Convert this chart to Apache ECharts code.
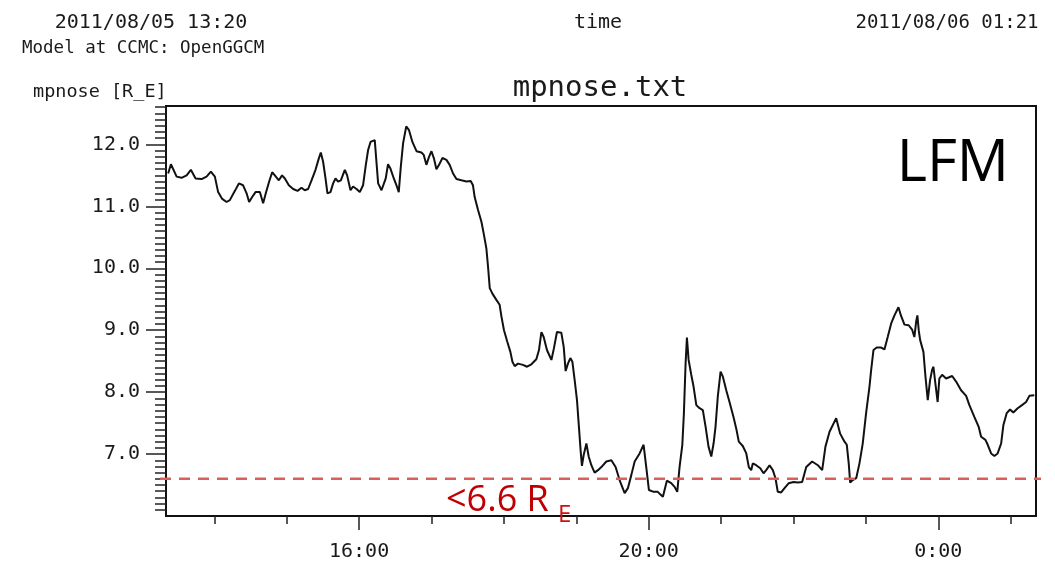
<!DOCTYPE html>
<html><head><meta charset="utf-8">
<script src="https://cdn.jsdelivr.net/npm/echarts@6/dist/echarts.min.js"></script>
<style>html,body{margin:0;padding:0;background:#fff}#c{width:1055px;height:564px}</style>
</head><body><div id="c"></div>
<script>
// time in minutes after 2011/08/05 13:20 UT
const minutesSince1320 = [1.8,4.1,8.8,12.9,17.1,20.6,24.5,29.5,33.6,37.2,40.5,43.2,46.6,50.2,52.9,57.1,60.4,63.9,66.8,68.9,71.4,74.2,77.8,80.5,82.7,85.5,88.0,90.2,93.5,96.2,98.5,101.8,105.4,109.0,112.3,115.0,117.8,120.6,123.9,126.6,128.3,130.2,132.2,133.8,136.3,138.5,140.5,142.6,144.9,148.2,150.1,152.9,155.0,157.9,160.6,163.3,165.6,167.5,169.5,173.0,174.4,175.8,178.6,179.9,182.1,184.0,186.0,188.8,191.0,192.9,194.6,196.5,199.1,201.4,204.2,207.6,211.7,213.6,215.8,218.0,220.0,222.1,224.1,226.3,229.1,232.4,235.1,237.9,240.7,244.8,249.0,252.5,254.4,255.8,258.6,261.4,263.5,265.5,266.9,268.3,270.5,273.8,276.5,278.0,280.1,282.9,285.4,287.1,289.0,291.7,295.8,299.2,302.8,306.9,309.1,311.1,313.0,315.7,319.4,321.5,324.0,327.6,329.6,331.2,333.1,335.1,336.8,338.7,340.6,342.2,343.6,344.7,346.1,348.4,350.3,352.5,355.2,358.0,360.8,364.9,369.1,372.6,375.9,380.1,382.8,385.6,388.4,392.5,395.8,398.0,400.2,404.1,407.6,409.6,411.8,415.1,418.7,421.5,423.7,425.6,427.9,429.2,430.6,431.7,433.1,435.3,437.2,439.5,442.2,444.9,447.2,449.6,451.9,453.8,455.4,457.3,459.6,461.5,464.3,467.0,470.3,472.6,474.7,478.0,480.9,483.0,485.0,486.3,489.1,492.5,495.2,497.4,500.2,502.9,505.1,507.0,509.8,512.6,516.1,520.0,523.6,527.2,530.6,535.5,540.2,543.8,546.5,549.9,555.4,558.7,562.3,564.2,565.8,567.0,569.1,572.0,574.7,577.4,580.2,583.0,584.4,586.3,589.0,592.7,595.4,598.1,601.0,603.7,607.0,609.2,612.0,615.5,618.3,620.2,621.7,622.7,623.8,625.0,627.7,629.4,631.3,633.2,634.9,636.0,637.6,639.5,640.9,643.2,646.5,651.5,654.8,658.9,663.1,665.8,669.9,673.5,675.5,679.1,681.0,683.8,686.5,689.2,692.1,694.0,696.7,699.5,702.2,705.8,709.4,712.8,715.5,719.6];
// magnetopause nose distance [R_E]
const mpnose = [11.53,11.68,11.48,11.46,11.50,11.59,11.45,11.44,11.48,11.56,11.48,11.23,11.12,11.07,11.10,11.25,11.37,11.34,11.21,11.07,11.15,11.23,11.23,11.05,11.21,11.40,11.55,11.50,11.42,11.50,11.45,11.34,11.28,11.25,11.30,11.26,11.28,11.42,11.59,11.77,11.87,11.72,11.45,11.21,11.23,11.37,11.45,11.40,11.42,11.59,11.50,11.26,11.32,11.28,11.23,11.34,11.67,11.91,12.04,12.07,11.72,11.37,11.26,11.23,11.45,11.68,11.61,11.45,11.34,11.23,11.64,12.02,12.29,12.23,12.04,11.89,11.87,11.83,11.67,11.80,11.89,11.77,11.60,11.67,11.78,11.75,11.67,11.53,11.44,11.42,11.40,11.41,11.34,11.15,10.94,10.75,10.54,10.32,10.02,9.68,9.59,9.49,9.41,9.22,9.00,8.81,8.65,8.49,8.42,8.46,8.44,8.41,8.45,8.53,8.68,8.97,8.89,8.68,8.52,8.71,8.97,8.96,8.73,8.34,8.46,8.55,8.49,8.19,7.87,7.44,7.06,6.81,6.98,7.17,6.96,6.82,6.70,6.74,6.79,6.88,6.90,6.79,6.58,6.37,6.45,6.66,6.88,7.01,7.15,6.79,6.42,6.39,6.39,6.35,6.31,6.57,6.53,6.47,6.39,6.79,7.15,7.66,8.46,8.88,8.52,8.28,8.09,7.79,7.74,7.71,7.44,7.12,6.96,7.17,7.44,7.93,8.33,8.25,8.03,7.84,7.60,7.41,7.20,7.13,7.01,6.79,6.74,6.85,6.82,6.77,6.69,6.74,6.82,6.74,6.61,6.39,6.38,6.45,6.53,6.55,6.54,6.55,6.79,6.88,6.82,6.74,7.12,7.36,7.58,7.33,7.20,7.15,6.85,6.54,6.58,6.61,6.85,7.17,7.66,8.09,8.36,8.68,8.72,8.72,8.69,8.89,9.11,9.24,9.37,9.23,9.09,9.08,9.01,8.89,9.14,9.24,9.00,8.84,8.65,8.25,7.87,8.19,8.36,8.41,8.14,7.84,8.22,8.28,8.22,8.26,8.17,8.03,7.94,7.79,7.60,7.44,7.28,7.23,7.15,7.01,6.97,7.01,7.17,7.47,7.66,7.72,7.67,7.74,7.79,7.84,7.94,7.95];
const threshold = 6.6;
const xMin = 0, xMax = 721;               // 13:20 .. 01:21
const xMajorTicks = [160, 400, 640];      // 16:00, 20:00, 0:00
const xMinorTicks = [40,100,160,220,280,340,400,460,520,580,640,700];
const yMin = 6.0, yMax = 12.62;
const yMajorTicks = [7, 8, 9, 10, 11, 12];
const yMinorTicks = [];
for (let i = 61; i <= 126; i++) yMinorTicks.push(i / 10);
const startLabel = '2011/08/05 13:20';
const endLabel = '2011/08/06 01:21';
const modelLabel = 'Model at CCMC: OpenGGCM';
const yName = 'mpnose [R_E]';
const plotTitle = 'mpnose.txt';
const xName = 'time';
const modelTag = 'LFM';
const thresholdText = '<6.6 R';
const thresholdSub = 'E';

const MONO = '"DejaVu Sans Mono", "Liberation Mono", monospace';
const SANS = '"Open Sans", "Noto Sans", sans-serif';
const INK = '#1a1a1a';

function clock(m) {
  const h = Math.round(((13 * 60 + 20 + m) / 60) % 24);
  return h + ':00';
}

const chart = echarts.init(document.getElementById('c'), null, {renderer: 'canvas'});
chart.setOption({
  animation: false,
  backgroundColor: '#fff',
  grid: {left: 166, right: 19, top: 106, bottom: 48, show: true, borderColor: '#111', borderWidth: 2, backgroundColor: 'transparent'},
  xAxis: [{
    type: 'value', min: xMin, max: xMax, position: 'bottom',
    axisLine: {show: true, lineStyle: {color: '#111', width: 2}},
    axisTick: {show: true, customValues: xMajorTicks, length: 14, lineStyle: {color: '#222', width: 1.5}},
    axisLabel: {show: true, customValues: xMajorTicks, formatter: clock, margin: 26, color: INK, fontFamily: MONO, fontSize: 20},
    splitLine: {show: false}
  }, {
    type: 'value', min: xMin, max: xMax, position: 'bottom', offset: 0,
    axisLine: {show: false},
    axisTick: {show: true, customValues: xMinorTicks, length: 8, lineStyle: {color: '#222', width: 1.5}},
    axisLabel: {show: false},
    splitLine: {show: false}
  }],
  yAxis: [{
    type: 'value', min: yMin, max: yMax, position: 'left',
    axisLine: {show: true, lineStyle: {color: '#111', width: 2}},
    axisTick: {show: true, customValues: yMajorTicks, length: 20, lineStyle: {color: '#222', width: 1.5}},
    axisLabel: {show: true, customValues: yMajorTicks, formatter: v => v.toFixed(1), margin: 26, color: INK, fontFamily: MONO, fontSize: 20},
    splitLine: {show: false}
  }, {
    type: 'value', min: yMin, max: yMax, position: 'left', offset: 0,
    axisLine: {show: false},
    axisTick: {show: true, customValues: yMinorTicks, length: 11, lineStyle: {color: '#222', width: 1.5}},
    axisLabel: {show: false},
    splitLine: {show: false}
  }],
  series: [{
    type: 'line',
    xAxisIndex: 0, yAxisIndex: 0,
    data: minutesSince1320.map((m, i) => [m, mpnose[i]]),
    showSymbol: false, symbol: 'none',
    lineStyle: {color: '#111', width: 2},
    z: 3
  }]
});

const yThr = chart.convertToPixel({yAxisIndex: 0}, threshold);
chart.setOption({
  graphic: [
    {type: 'text', x: 151, y: 23, style: {text: startLabel, fill: INK, fontFamily: MONO, fontSize: 20, align: 'center', verticalAlign: 'middle'}},
    {type: 'text', x: 598, y: 23, style: {text: xName, fill: INK, fontFamily: MONO, fontSize: 20, align: 'center', verticalAlign: 'middle'}},
    {type: 'text', x: 947, y: 23, style: {text: endLabel, fill: INK, fontFamily: MONO, fontSize: 19, align: 'center', verticalAlign: 'middle'}},
    {type: 'text', x: 22, y: 48, style: {text: modelLabel, fill: INK, fontFamily: MONO, fontSize: 17.5, align: 'left', verticalAlign: 'middle'}},
    {type: 'text', x: 33, y: 92, style: {text: yName, fill: INK, fontFamily: MONO, fontSize: 18.5, align: 'left', verticalAlign: 'middle'}},
    {type: 'text', x: 600, y: 88, style: {text: plotTitle, fill: INK, fontFamily: MONO, fontSize: 29, align: 'center', verticalAlign: 'middle'}},
    {type: 'text', x: 1009, y: 164, style: {text: modelTag, fill: '#000', fontFamily: SANS, fontSize: 58, align: 'right', verticalAlign: 'middle'}},
    {type: 'line', z: 100, shape: {x1: 160, y1: yThr, x2: 1041, y2: yThr}, style: {stroke: '#d9605a', lineWidth: 2.5, lineDash: [11, 8]}},
    {type: 'text', z: 100, x: 446, y: yThr + 22, style: {text: thresholdText, fill: '#c00000', fontFamily: SANS, fontSize: 36, align: 'left', verticalAlign: 'middle'}},
    {type: 'text', z: 100, x: 558, y: yThr + 36, style: {text: thresholdSub, fill: '#d01010', fontFamily: SANS, fontSize: 24, align: 'left', verticalAlign: 'middle'}}
  ]
});
</script>
</body></html>
